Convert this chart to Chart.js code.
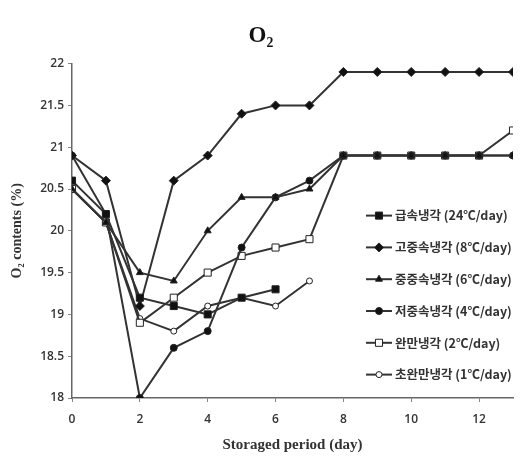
<!DOCTYPE html>
<html>
<head>
<meta charset="utf-8">
<script src="https://cdn.jsdelivr.net/npm/chart.js@4"></script>
<style>
  body { margin: 0; background: #fff; }
</style>
</head>
<body>
<canvas id="o2-chart" width="525" height="456"></canvas>
<script>
// storage days
var days = [0, 1, 2, 3, 4, 5, 6, 7, 8, 9, 10, 11, 12, 13];

// O2 content (%) per cooling rate
var rapid24 = [20.6, 20.2, 19.2, 19.1, 19.0, 19.2, 19.3];
var fast8 = [20.9, 20.6, 19.1, 20.6, 20.9, 21.4, 21.5, 21.5, 21.9, 21.9, 21.9, 21.9, 21.9, 21.9];
var mid6 = [20.5, 20.1, 19.5, 19.4, 20.0, 20.4, 20.4, 20.5, 20.9, 20.9, 20.9, 20.9, 20.9, 20.9];
var low4 = [20.9, 20.2, 18.0, 18.6, 18.8, 19.8, 20.4, 20.6, 20.9, 20.9, 20.9, 20.9, 20.9, 20.9];
var slow2 = [20.5, 20.1, 18.9, 19.2, 19.5, 19.7, 19.8, 19.9, 20.9, 20.9, 20.9, 20.9, 20.9, 21.2];
var vslow1 = [20.5, 20.1, 18.95, 18.8, 19.1, 19.2, 19.1, 19.4];

var seriesNames = ["급속냉각 (24℃/day)", "고중속냉각 (8℃/day)", "중중속냉각 (6℃/day)",
                   "저중속냉각 (4℃/day)", "완만냉각 (2℃/day)", "초완만냉각 (1℃/day)"];

var yTicks = [18, 18.5, 19, 19.5, 20, 20.5, 21, 21.5, 22];

function pts(vals) {
  return vals.map(function (v, i) { return { x: days[i], y: v }; });
}

function series(name, vals, style, r, fill) {
  return {
    label: name,
    data: pts(vals),
    borderColor: "#333",
    borderWidth: 2,
    pointStyle: style,
    pointRadius: r,
    pointBackgroundColor: fill,
    pointBorderColor: "#222",
    pointBorderWidth: 1,
    fill: false,
    tension: 0
  };
}

// legend drawn inside the plot area, right side
var insideLegend = {
  id: "insideLegend",
  afterDatasetsDraw: function (chart) {
    var ctx = chart.ctx, a = chart.chartArea;
    var x0 = a.right - 147, y0 = a.top + 152, step = 31.8;
    chart.data.datasets.forEach(function (ds, i) {
      var y = y0 + i * step;
      ctx.save();
      ctx.strokeStyle = ds.borderColor;
      ctx.lineWidth = 2;
      ctx.beginPath();
      ctx.moveTo(x0, y);
      ctx.lineTo(x0 + 26, y);
      ctx.stroke();
      ctx.fillStyle = ds.pointBackgroundColor;
      ctx.strokeStyle = ds.pointBorderColor;
      ctx.lineWidth = 1;
      Chart.helpers.drawPoint(ctx, { pointStyle: ds.pointStyle, radius: ds.pointRadius, borderWidth: 1, rotation: 0 }, x0 + 13, y);
      ctx.fillStyle = "#333";
      ctx.font = "600 12.5px 'Noto Sans CJK KR'";
      ctx.textBaseline = "middle";
      ctx.fillText(ds.label, x0 + 29, y);
      ctx.restore();
    });
  }
};

new Chart(document.getElementById("o2-chart"), {
  type: "line",
  data: {
    datasets: [
      series(seriesNames[0], rapid24, "rect", 5, "#111"),
      series(seriesNames[1], fast8, "rectRot", 4.5, "#111"),
      series(seriesNames[2], mid6, "triangle", 4, "#111"),
      series(seriesNames[3], low4, "circle", 3.5, "#111"),
      series(seriesNames[4], slow2, "rect", 5, "#fff"),
      series(seriesNames[5], vslow1, "circle", 3, "#fff")
    ]
  },
  options: {
    responsive: false,
    animation: false,
    layout: { padding: { left: 9, right: 12, top: 0, bottom: 2 } },
    plugins: {
      legend: { display: false },
      tooltip: { enabled: false },
      title: {
        display: true,
        text: "O₂",
        color: "#111",
        font: { family: "'Liberation Serif'", size: 23, weight: "bold" },
        padding: { top: 22, bottom: 14 }
      }
    },
    scales: {
      x: {
        type: "linear",
        min: 0,
        max: 13,
        afterFit: function (scale) { scale.height = 56; },
        border: { display: true, color: "#666", width: 1.5 },
        grid: { drawOnChartArea: false, drawTicks: true, tickLength: 4, color: "#888" },
        ticks: {
          stepSize: 2,
          includeBounds: false,
          color: "#333",
          padding: 10,
          font: { family: "'Open Sans'", size: 12, weight: "600" }
        },
        title: {
          display: true,
          text: "Storaged period (day)",
          color: "#333",
          padding: { top: 0, bottom: 0 },
          font: { family: "'Liberation Serif'", size: 15, weight: "bold" }
        }
      },
      y: {
        min: 18,
        max: 22,
        afterFit: function (scale) { scale.width = 63; },
        afterBuildTicks: function (scale) {
          scale.ticks = yTicks.map(function (v) { return { value: v }; });
        },
        border: { display: true, color: "#666", width: 1.5 },
        grid: { drawOnChartArea: false, drawTicks: true, tickLength: 4, color: "#888" },
        ticks: {
          color: "#333",
          padding: 4,
          font: { family: "'Open Sans'", size: 12, weight: "600" },
          callback: function (v) { return String(v); }
        },
        title: {
          display: true,
          text: "O₂ contents (%)",
          color: "#333",
          padding: { top: 0, bottom: 4 },
          font: { family: "'Liberation Serif'", size: 14, weight: "bold" }
        }
      }
    }
  },
  plugins: [insideLegend]
});
</script>
</body>
</html>
